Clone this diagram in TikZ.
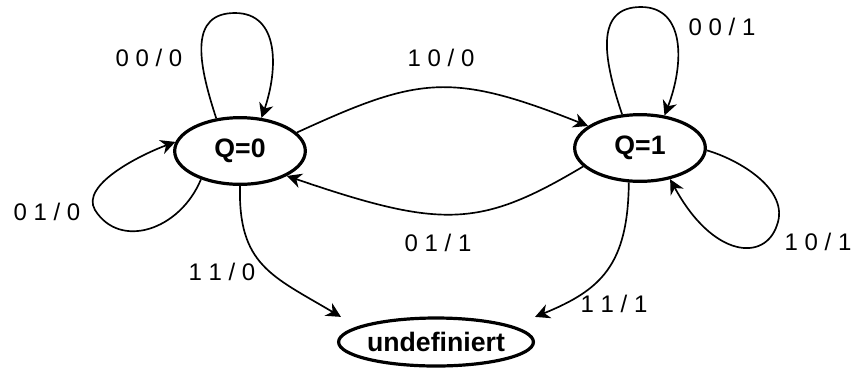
\documentclass[tikz,border=0pt]{standalone}
\usepackage{fontspec}
\setmainfont{Liberation Sans}
\usetikzlibrary{shapes.geometric,arrows.meta}

\begin{document}
\begin{tikzpicture}[x=0.75pt,y=-0.75pt,
    state/.style={draw,ellipse,line width=2.4pt,inner sep=0pt,
      minimum width=98pt,minimum height=50pt,
      font=\fontsize{20}{23}\selectfont\bfseries},
    lbl/.style={inner sep=0pt,font=\fontsize{18}{21}\selectfont},
    trans/.style={line width=1.25pt,-{Stealth[length=11pt,width=11pt,inset=3.5pt]}}]
  \useasboundingbox (0,0) rectangle (856,369);

  \node[state] (q0) at (240,151) {Q=0};
  \node[state] (q1) at (640,148) {Q=1};
  \node[state,minimum width=143pt,minimum height=36pt] (undef) at (436,342) {undefiniert};

  \node[lbl] (in00q0) at (149,58) {0 0 / 0};
  \node[lbl] (in01q0) at (47,212) {0 1 / 0};
  \node[lbl] (in10q0) at (441,58) {1 0 / 0};
  \node[lbl] (in11q0) at (222,272) {1 1 / 0};
  \node[lbl] (in00q1) at (722,27) {0 0 / 1};
  \node[lbl] (in01q1) at (438,243) {0 1 / 1};
  \node[lbl] (in10q1) at (818,242) {1 0 / 1};
  \node[lbl] (in11q1) at (614,304) {1 1 / 1};

  % self loops
  \draw[trans] (q0.126) .. controls (197,60) and (190,13) .. (235,13)
               .. controls (280,13) and (278,70) .. (q0.57);
  \draw[trans] (q0.216) .. controls (180,230) and (120,250) .. (95,210)
               .. controls (80,185) and (140,155) .. (q0.172);
  \draw[trans] (q1.118) .. controls (602,55) and (596,7) .. (641,7)
               .. controls (686,7) and (684,65) .. (q1.53);
  \draw[trans] (q1.-2) .. controls (740,160) and (790,190) .. (777,225)
               .. controls (765,262) and (713,258) .. (q1.-46);

  % between the states
  \draw[trans] (q0.18) .. controls (418,77) and (450,71) .. (q1.157);
  \draw[trans] (q1.198) .. controls (480,228) and (442,229) .. (q0.-28);
  \draw[trans] (q0.-90) .. controls (238,265) and (272,276)
               .. ([shift={(-25,-7)}]undef.north west);
  \draw[trans] (q1.252) .. controls (628,265) and (601,290)
               .. ([shift={(29,-7)}]undef.north east);
\end{tikzpicture}
\end{document}
